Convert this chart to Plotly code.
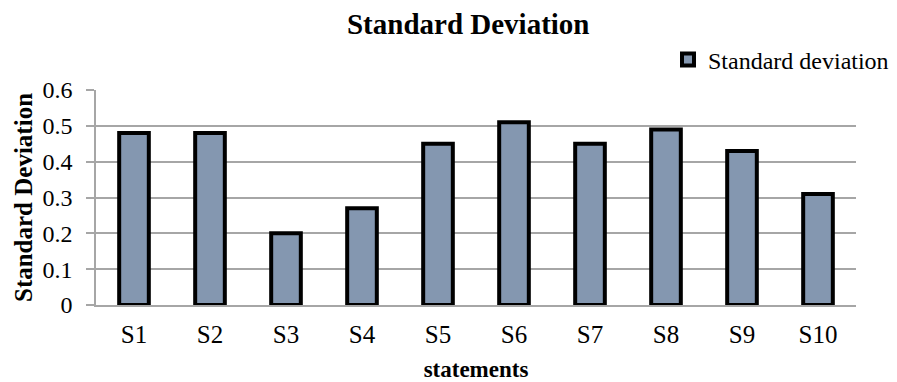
import plotly.graph_objects as go

# Per-statement standard deviation values
statements = ["S1", "S2", "S3", "S4", "S5", "S6", "S7", "S8", "S9", "S10"]
std_dev = [0.48, 0.48, 0.20, 0.27, 0.45, 0.51, 0.45, 0.49, 0.43, 0.31]
y_ticks = [0, 0.1, 0.2, 0.3, 0.4, 0.5, 0.6]
y_tick_labels = ["0", "0.1", "0.2", "0.3", "0.4", "0.5", "0.6"]

FONT = "Liberation Serif, Times New Roman, serif"
GRID = "#a6a6a6"

fig = go.Figure(
    go.Bar(
        x=statements,
        y=std_dev,
        name="Standard deviation",
        width=0.39,
        marker=dict(color="#8497b0", line=dict(color="black", width=4)),
        showlegend=True,
    )
)

fig.update_layout(
    width=897,
    height=382,
    margin=dict(l=96, r=41, t=90, b=77, autoexpand=False),
    paper_bgcolor="white",
    plot_bgcolor="white",
    font=dict(family=FONT, color="black", size=25),
    title=dict(
        text="<b>Standard Deviation</b>",
        x=0.522,
        xanchor="center",
        y=0.937,
        yanchor="middle",
        font=dict(family=FONT, size=29, color="black"),
    ),
    legend=dict(
        x=1.050,
        xanchor="right",
        y=1.14,
        yanchor="middle",
        bgcolor="rgba(0,0,0,0)",
        font=dict(family=FONT, size=24),
        itemwidth=30,
    ),
)

fig.update_xaxes(
    title=dict(text="<b>statements</b>", font=dict(family=FONT, size=23), standoff=14),
    showline=True,
    linecolor=GRID,
    linewidth=1.5,
    ticks="",
    ticklabelstandoff=6,
    tickfont=dict(family=FONT, size=25),
    showgrid=False,
)

fig.update_yaxes(
    title=dict(text="<b>Standard Deviation</b>", font=dict(family=FONT, size=25), standoff=3),
    range=[0, 0.6],
    tickvals=y_ticks,
    ticktext=y_tick_labels,
    showline=True,
    linecolor=GRID,
    linewidth=1.5,
    showgrid=True,
    gridcolor=GRID,
    gridwidth=1.5,
    ticks="outside",
    ticklen=8,
    tickcolor=GRID,
    tickwidth=1.5,
    ticklabelstandoff=9,
    tickfont=dict(family=FONT, size=24),
    zeroline=False,
)

fig.write_html("out.html")
